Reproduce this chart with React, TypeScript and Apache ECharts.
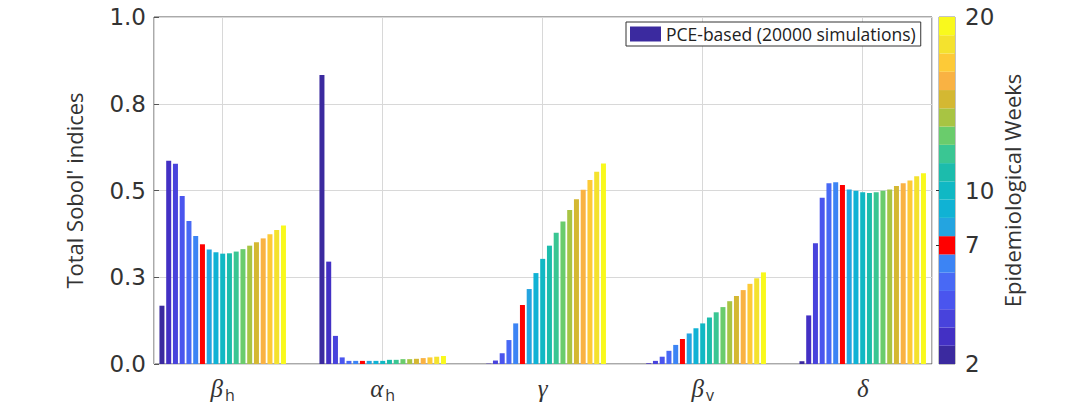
import React, { useEffect, useRef } from "react";
import * as echarts from "echarts";

const categories = ["β_h", "α_h", "γ", "β_v", "δ"];
const categorySymbols = ["β", "α", "γ", "β", "δ"];
const categorySubscripts = ["h", "h", "", "v", ""];

const weeks = [1, 2, 3, 4, 5, 6, 7, 8, 9, 10, 11, 12, 13, 14, 15, 16, 17, 18, 19];
const weekColors = [
  "#3b2a9f", "#4330c4", "#4843dc", "#4a55ee", "#4869f5", "#3c84f4", "#ff0000",
  "#24a4e0", "#10b2d4", "#10b8c4", "#1cbcac", "#3ac693", "#6acc6c", "#a8c443",
  "#d4b832", "#f9b243", "#fdca37", "#f4e22e", "#f9f91d",
];

const betaH = [0.168, 0.586, 0.577, 0.484, 0.412, 0.369, 0.345, 0.330, 0.322, 0.318, 0.319, 0.324, 0.331, 0.341, 0.351, 0.362, 0.374, 0.386, 0.399];
const alphaH = [0.833, 0.295, 0.081, 0.019, 0.009, 0.009, 0.009, 0.009, 0.009, 0.009, 0.012, 0.012, 0.014, 0.014, 0.015, 0.017, 0.019, 0.021, 0.023];
const gamma = [0.0, 0.001, 0.010, 0.031, 0.069, 0.117, 0.170, 0.216, 0.262, 0.303, 0.341, 0.378, 0.411, 0.444, 0.475, 0.502, 0.530, 0.554, 0.578];
const betaV = [0.0, 0.002, 0.009, 0.021, 0.038, 0.055, 0.072, 0.088, 0.103, 0.117, 0.134, 0.149, 0.164, 0.181, 0.196, 0.213, 0.231, 0.247, 0.264];
const delta = [0.008, 0.140, 0.348, 0.479, 0.521, 0.524, 0.516, 0.503, 0.499, 0.495, 0.493, 0.495, 0.499, 0.503, 0.513, 0.521, 0.529, 0.541, 0.550];

const xLimits = [0.5706, 5.4331];
const yTickValues = [0, 0.25, 0.5, 0.75, 1];
const yTickLabels = ["0.0", "0.3", "0.5", "0.8", "1.0"];
const colorbarTickPositions = [0, 6.5, 9.5, 19];
const colorbarTickLabels = ["2", "7", "10", "20"];
const legendLabel = "PCE-based (20000 simulations)";
const yTitle = "Total Sobol' indices";
const colorbarTitle = "Epidemiological Weeks";

export default function App() {
  const ref = useRef<HTMLDivElement>(null);
  useEffect(() => {
    if (!ref.current) return;
    const chart = echarts.init(ref.current, null, { renderer: "svg" });
    const groups = [betaH, alphaH, gamma, betaV, delta];
    const numFont = "DejaVu Sans";
    const txtFont = "Open Sans";
    const gridColor = "#d8d8d8";
    const barSeries = weeks.map((w, i) => ({
      type: "bar",
      name: "Week " + w,
      xAxisIndex: 1,
      yAxisIndex: 1,
      barWidth: 5,
      barGap: "35%",
      itemStyle: { color: weekColors[i] },
      data: groups.map((g) => g[i]),
      silent: true,
      z: 3,
    }));
    const option: any = {
      animation: false,
      backgroundColor: "#ffffff",
      grid: [
        { left: 154, right: 139, top: 17, bottom: 39, show: true, borderColor: "#555", borderWidth: 1, backgroundColor: "transparent" },
        { left: 142.7, right: 128.3, top: 17, bottom: 39 },
        { left: 939, right: 116, top: 17, bottom: 39, show: true, borderColor: "#888", borderWidth: 1 },
      ],
      legend: {
        data: [{ name: legendLabel, icon: "rect" }],
        left: 626,
        top: 22,
        itemWidth: 31,
        itemHeight: 15,
        padding: [3, 5, 3, 4],
        borderColor: "#333",
        borderWidth: 1,
        borderRadius: 0,
        backgroundColor: "#fff",
        selectedMode: false,
        textStyle: { fontFamily: txtFont, fontSize: 17.5, color: "#222" },
      },
      xAxis: [
        {
          gridIndex: 0,
          type: "value",
          min: xLimits[0],
          max: xLimits[1],
          axisLine: { show: false },
          axisTick: { show: false },
          axisLabel: { show: false },
          splitLine: { show: true, lineStyle: { color: gridColor, width: 1 } },
        },
        {
          gridIndex: 1,
          type: "category",
          data: categories,
          axisLine: { show: false },
          axisTick: { show: false },
          axisLabel: {
            margin: 12,
            formatter: (_v: string, idx: number) =>
              categorySubscripts[idx]
                ? `{g|${categorySymbols[idx]}}{s|${categorySubscripts[idx]}}`
                : `{g|${categorySymbols[idx]}}`,
            rich: {
              g: { fontFamily: "Liberation Serif", fontStyle: "italic", fontSize: 25, color: "#333", lineHeight: 25, verticalAlign: "top" },
              s: { fontFamily: txtFont, fontSize: 16, color: "#333", lineHeight: 15, verticalAlign: "top", padding: [11, 0, 0, 2] },
            },
          },
        },
        { gridIndex: 2, type: "value", min: 0, max: 1, show: false },
      ],
      yAxis: [
        {
          gridIndex: 0,
          type: "value",
          min: 0,
          max: 1,
          interval: 0.25,
          axisLine: { show: false },
          axisTick: { show: true, inside: true, length: 5, lineStyle: { color: "#555" } },
          splitLine: { show: true, lineStyle: { color: gridColor, width: 1 } },
          axisLabel: {
            margin: 8,
            fontFamily: numFont,
            fontSize: 23,
            color: "#333",
            formatter: (v: number) => {
              const k = yTickValues.indexOf(v);
              return k >= 0 ? yTickLabels[k] : "";
            },
          },
          name: yTitle,
          nameLocation: "middle",
          nameGap: 69,
          nameTextStyle: { fontFamily: txtFont, fontSize: 22, color: "#333" },
        },
        { gridIndex: 1, type: "value", min: 0, max: 1, show: false },
        {
          gridIndex: 2,
          type: "value",
          min: 0,
          max: 19,
          position: "right",
          axisLine: { show: false },
          splitLine: { show: false },
          axisTick: { show: true, inside: true, length: 3, customValues: [6.5, 9.5], lineStyle: { color: "#333" } },
          axisLabel: {
            margin: 10,
            fontFamily: numFont,
            fontSize: 23,
            color: "#333",
            showMinLabel: true,
            showMaxLabel: true,
            customValues: colorbarTickPositions,
            formatter: (v: number) => {
              const k = colorbarTickPositions.indexOf(v);
              return k >= 0 ? colorbarTickLabels[k] : "";
            },
          },
          name: colorbarTitle,
          nameLocation: "middle",
          nameRotate: 90,
          nameGap: 46,
          nameTextStyle: { fontFamily: txtFont, fontSize: 22, color: "#333" },
        },
        { gridIndex: 2, type: "category", data: weeks.map(String), show: false },
      ],
      series: [
        {
          type: "line",
          name: legendLabel,
          xAxisIndex: 0,
          yAxisIndex: 0,
          data: [],
          color: "#3b2a9f",
          itemStyle: { color: "#3b2a9f" },
          lineStyle: { color: "#3b2a9f" },
        },
        ...barSeries,
        {
          type: "bar",
          name: "colorbar",
          xAxisIndex: 2,
          yAxisIndex: 3,
          barCategoryGap: "0%",
          silent: true,
          data: weekColors.map((c) => ({ value: 1, itemStyle: { color: c } })),
        },
      ],
    };
    chart.setOption(option);
    return () => chart.dispose();
  }, []);
  return (
    <div
      ref={ref}
      style={{ position: "fixed", left: 0, top: 0, width: 1071, height: 403, background: "#fff" }}
    />
  );
}
